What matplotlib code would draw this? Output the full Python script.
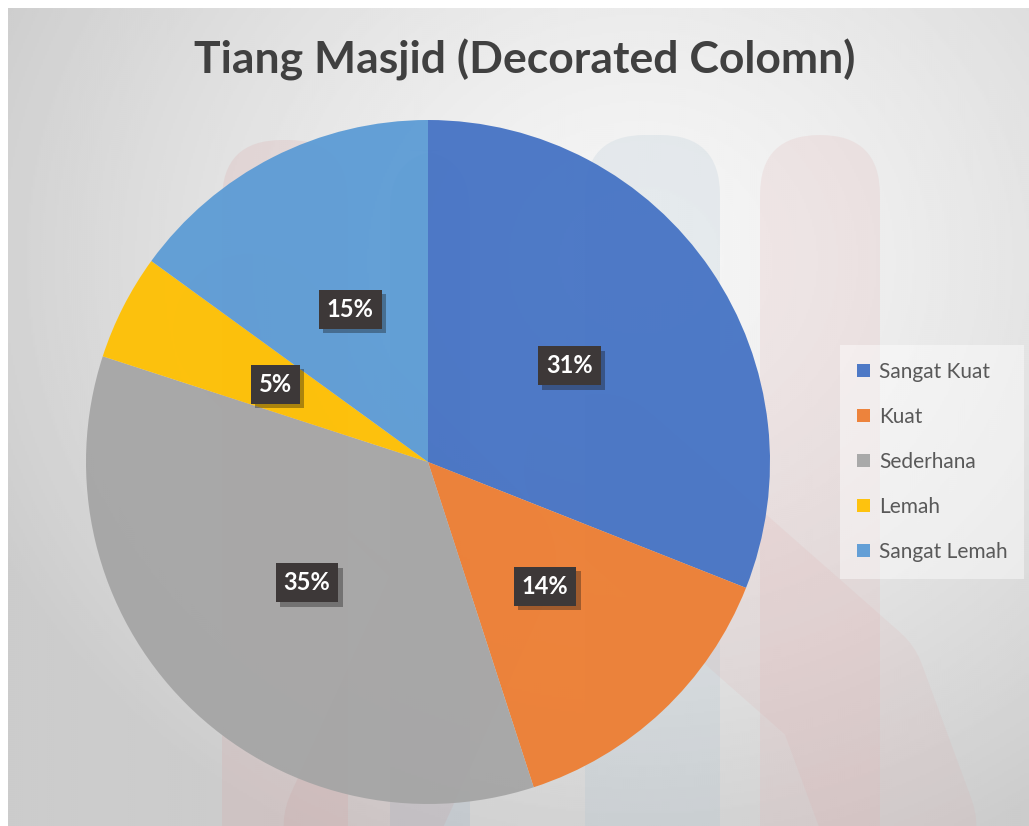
import numpy as np
import matplotlib.pyplot as plt
from matplotlib.patches import FancyBboxPatch
import matplotlib.patheffects as pe

labels = ['Sangat Kuat', 'Kuat', 'Sederhana', 'Lemah', 'Sangat Lemah']
values = [31, 14, 35, 5, 15]
colors = ['#4472C4', '#ED7D31', '#A5A5A5', '#FFC000', '#5B9BD5']
title = 'Tiang Masjid (Decorated Colomn)'

W, H = 1029, 826
fig = plt.figure(figsize=(W / 100, H / 100), dpi=100, facecolor='white')

# background: soft radial gradient plus faint watermark pillars
bg = fig.add_axes([8 / W, 0, 1 - 8 / W, 1 - 8 / H])
bg.set_xlim(8, W)
bg.set_ylim(H, 8)
bg.axis('off')
yy, xx = np.mgrid[8:H:2, 8:W:2]
dist = np.sqrt(((xx - 640) / 1.0) ** 2 + ((yy - 260) / 0.9) ** 2)
shade = np.clip(0.965 - 0.16 * (dist / 700) ** 1.4, 0.80, 0.97)
bg.imshow(shade, cmap='gray', vmin=0, vmax=1, extent=(8, W, H, 8), aspect='auto', zorder=0)

for x0, x1, top, col in [(222, 348, 140, '#d9a0a0'), (390, 470, 150, '#8fa8c0'),
                         (585, 720, 135, '#a8c0d0'), (760, 880, 135, '#e0b0b0')]:
    bg.add_patch(FancyBboxPatch((x0, top), x1 - x0, H - top + 60,
                                boxstyle='round,pad=0,rounding_size=60',
                                fc=col, ec='none', alpha=0.2, zorder=1))
bg.plot([250, 480, 360], [330, 560, 826], color='#c89090', lw=110, alpha=0.15,
        solid_capstyle='round', solid_joinstyle='round', zorder=1)
bg.plot([600, 850, 900], [470, 690, 826], color='#e0a0a0', lw=110, alpha=0.12,
        solid_capstyle='round', solid_joinstyle='round', zorder=1)

# pie
cx, cy, r = 428, 462, 342
ax = fig.add_axes([(cx - r) / W, (H - cy - r) / H, 2 * r / W, 2 * r / H])
ax.set_facecolor('none')
wedges, _, autotexts = ax.pie(values, colors=colors, startangle=90, counterclock=False,
                              autopct='%1.0f%%', pctdistance=0.5, radius=1,
                              wedgeprops=dict(linewidth=0, alpha=0.94))
ax.set_xlim(-1, 1)
ax.set_ylim(-1, 1)
ax.set_aspect('equal')

for t in autotexts:
    t.set_fontfamily('Lato')
    t.set_fontweight('bold')
    t.set_fontsize(17)
    t.set_color('white')
    t.set_bbox(dict(boxstyle='square,pad=0.34', fc='#3d3838', ec='none', lw=0))
    t.get_bbox_patch().set_path_effects([pe.SimplePatchShadow(offset=(3, -3), alpha=0.35),
                                         pe.Normal()])

fig.text(525 / W, 1 - 60 / H, title, ha='center', va='center', fontsize=32,
         fontweight='bold', fontfamily='Lato', color='#404040')

leg = fig.legend(wedges, labels, loc='center left', bbox_to_anchor=(830 / W, 1 - 462 / H),
                 frameon=True, fancybox=False, handlelength=0.6,
                 handleheight=0.6, handletextpad=0.45, labelspacing=1.2,
                 borderpad=0.8, prop=dict(family='Lato', size=15))
leg.get_frame().set_facecolor('white')
leg.get_frame().set_alpha(0.45)
leg.get_frame().set_edgecolor('none')
for txt in leg.get_texts():
    txt.set_color('#595959')

fig.savefig('out.png', dpi=100, facecolor='white')
